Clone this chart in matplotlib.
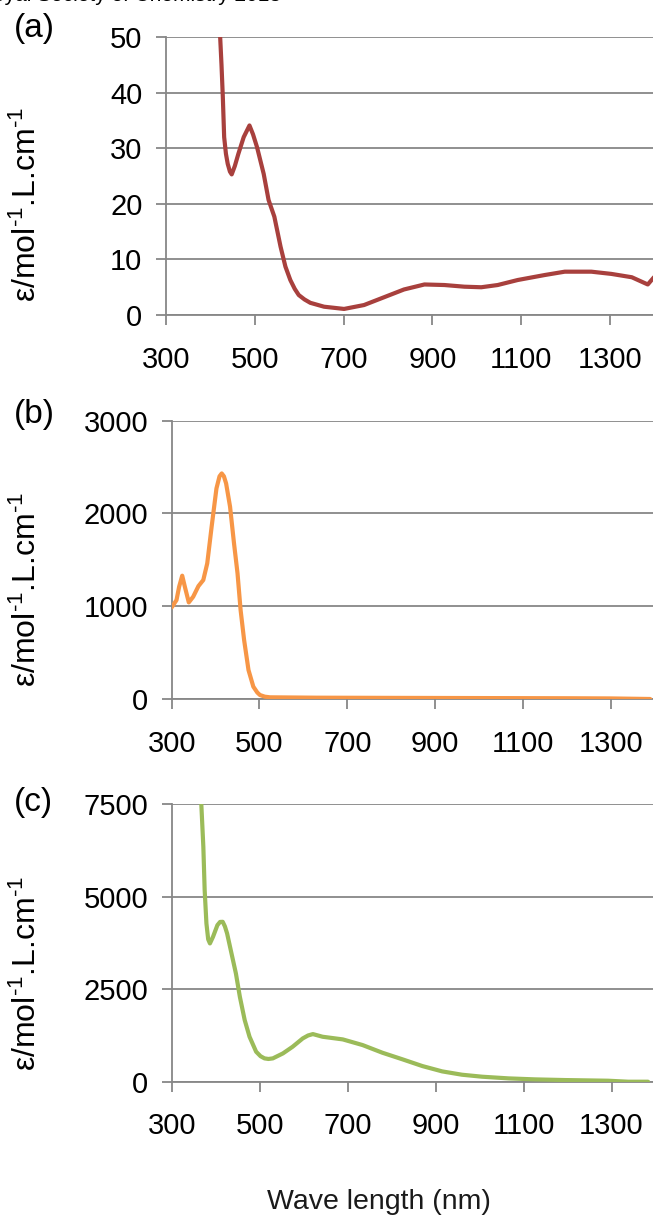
import matplotlib
matplotlib.use('Agg')
import matplotlib.pyplot as plt

plt.rcParams['font.family'] = ['Liberation Sans', 'DejaVu Sans']
plt.rcParams['mathtext.fontset'] = 'custom'
plt.rcParams['mathtext.rm'] = 'Liberation Sans'
plt.rcParams['mathtext.it'] = 'Liberation Sans:italic'
plt.rcParams['mathtext.bf'] = 'Liberation Sans:bold'

# ---- data ----
wl_a = [422, 425, 428, 431, 435, 439, 444, 448, 455, 463, 475, 488, 496, 505,
        520, 531, 544, 558, 569, 580, 590, 599, 612, 625, 656, 701, 746, 791,
        836, 882, 927, 972, 1010, 1047, 1092, 1153, 1198, 1258, 1303, 1349,
        1385, 1400]
eps_a = [50, 45, 39.2, 32, 29, 27.2, 25.8, 25.3, 26.8, 29, 32, 34.1, 32.5, 30.2,
         25.4, 20.7, 17.7, 12.3, 8.7, 6.3, 4.7, 3.6, 2.8, 2.2, 1.5, 1.1, 1.8,
         3.2, 4.6, 5.5, 5.4, 5.1, 5.0, 5.4, 6.3, 7.2, 7.8, 7.8, 7.4, 6.8, 5.5,
         6.9]

wl_b = [300, 311, 317, 324, 330, 339, 349, 361, 372, 381, 391, 402, 409, 414,
        419, 424, 433, 442, 450, 457, 465, 475, 486, 495, 501, 512, 524, 630,
        800, 1000, 1200, 1300, 1390]
eps_b = [987, 1066, 1210, 1329, 1210, 1041, 1102, 1217, 1282, 1461, 1856, 2269,
         2400, 2431, 2400, 2323, 2072, 1677, 1354, 959, 636, 312, 133, 70, 43,
         25, 18, 14, 12, 10, 8, 6, 0]

wl_c = [367, 372, 375, 379, 383, 387, 394, 404, 410, 416, 421, 426, 436, 446,
        455, 466, 477, 492, 502, 511, 520, 530, 553, 575, 598, 610, 621, 643,
        689, 734, 779, 825, 870, 915, 960, 1006, 1066, 1126, 1194, 1292, 1338,
        1383]
eps_c = [7600, 6351, 5180, 4279, 3850, 3739, 3919, 4234, 4320, 4324, 4200,
         4009, 3468, 2928, 2297, 1667, 1216, 811, 690, 631, 615, 631, 766, 946,
         1171, 1250, 1288, 1216, 1144, 991, 784, 604, 423, 279, 189, 135, 90,
         63, 45, 27, 0, 0]

xticks = [300, 500, 700, 900, 1100, 1300]
yticks_a = [0, 10, 20, 30, 40, 50]
yticks_b = [0, 1000, 2000, 3000]
yticks_c = [0, 2500, 5000, 7500]

grey = '#878787'
ylab = 'ε/mol$^{\u2010 1}$.L.cm$^{\u2010 1}$'

fig = plt.figure(figsize=(6.53, 12.15), dpi=100)

panels = [
    ([0.2542, 0.7407, 0.748, 0.2288], wl_a, eps_a, yticks_a, '#a8403d', '(a)', 29, 204),
    ([0.2629, 0.4247, 0.7395, 0.2291], wl_b, eps_b, yticks_b, '#f79646', '(b)', 415, 589),
    ([0.2629, 0.1097, 0.741, 0.2283], wl_c, eps_c, yticks_c, '#9bbb59', '(c)', 802, 973),
]

for rect, x, y, yt, col, tag, tag_y, lab_y in panels:
    ax = fig.add_axes(rect)
    ax.plot(x, y, color=col, lw=3.0, zorder=3, solid_capstyle='round',
            solid_joinstyle='round')
    ax.set_xlim(300, 1400)
    ax.set_ylim(yt[0], yt[-1])
    ax.set_xticks(xticks)
    ax.set_yticks(yt)
    ax.grid(axis='y', color=grey, lw=1.3)
    ax.set_axisbelow(True)
    for s in ['top', 'right']:
        ax.spines[s].set_visible(False)
    for s in ['left', 'bottom']:
        ax.spines[s].set_color(grey)
        ax.spines[s].set_linewidth(1.3)
    ax.tick_params(axis='x', colors=grey, length=7, width=1.3, pad=15,
                   labelcolor='black', labelsize=21)
    ax.tick_params(axis='y', colors=grey, length=7, width=1.3, pad=10,
                   labelcolor='black', labelsize=21)
    fig.text(14 / 653, 1 - tag_y / 1215, tag, fontsize=24, ha='left', va='center')
    fig.text(27 / 653, 1 - lab_y / 1215, ylab, fontsize=23, rotation=90,
             ha='center', va='center')

fig.text(379 / 653, 1 - 1209 / 1215, 'Wave length (nm)', fontsize=20.5,
         ha='center', va='baseline', color='#1a1a1a')
# header of the page, cut off at the top
fig.text(281 / 653, 1 - 1 / 1215, 'The Royal Society of Chemistry 2013',
         fontsize=15, ha='right', va='baseline')

fig.savefig('out.png', dpi=100)
